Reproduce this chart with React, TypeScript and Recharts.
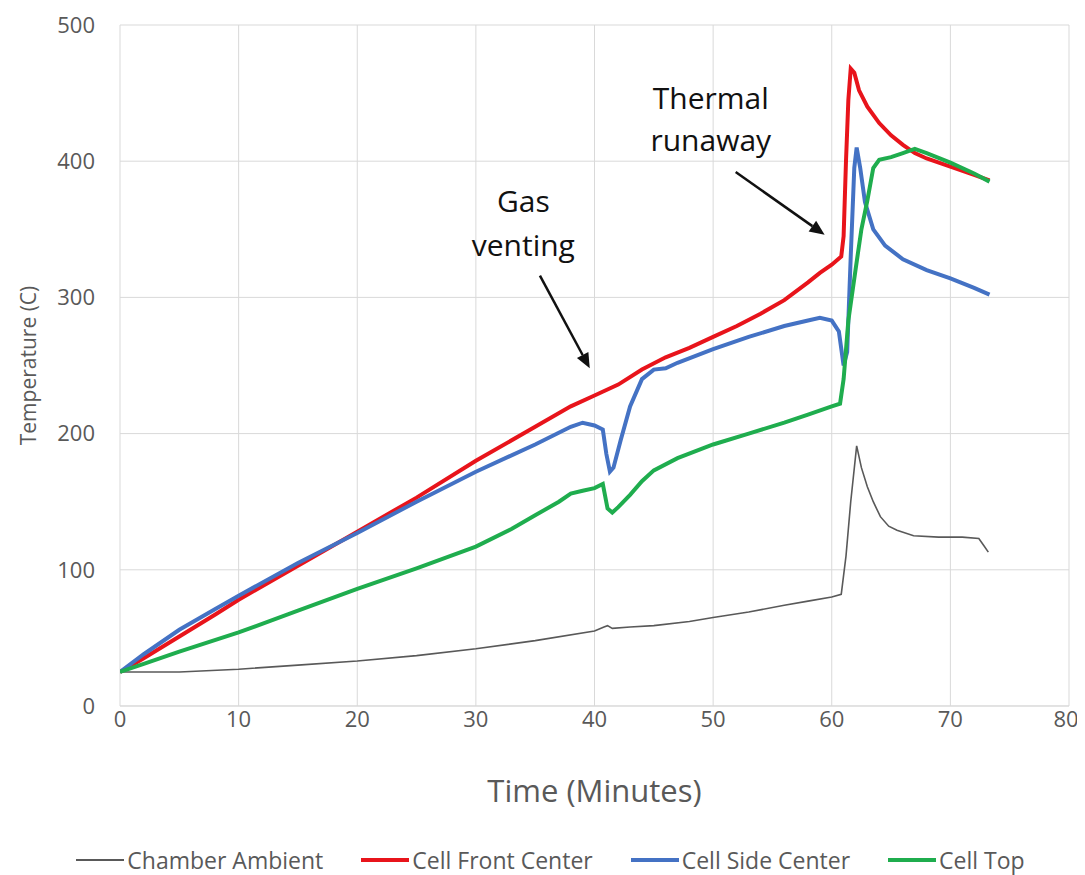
import React from 'react';
import { LineChart, Line, XAxis, YAxis, CartesianGrid, Legend, ReferenceLine, ReferenceDot } from 'recharts';

const ambientT = [0, 5, 10, 15, 20, 25, 30, 35, 40, 40.8, 41.1, 41.5, 43, 45, 48, 50, 53, 56, 58, 60, 60.8, 61.2, 61.6, 62.1, 62.5, 63, 63.5, 64.1, 64.8, 65.5, 66.9, 69, 71, 72.4, 72.8, 73.2];
const ambientV = [25, 25, 27, 30, 33, 37, 42, 48, 55, 58, 59, 57, 58, 59, 62, 65, 69, 74, 77, 80, 82, 110, 150, 191, 175, 161, 150, 139, 132, 129, 125, 124, 124, 123, 118, 113];

const frontT = [0, 2, 5, 8, 10, 15, 20, 25, 30, 35, 38, 40, 42, 44, 46, 48, 50, 52, 54, 56, 58, 59, 60, 60.8, 61.0, 61.2, 61.4, 61.6, 61.9, 62.3, 63, 64, 65, 66, 67, 68, 70, 72, 73.3];
const frontV = [25, 35, 51, 67, 78, 103, 128, 153, 180, 205, 220, 228, 236, 247, 256, 263, 271, 279, 288, 298, 311, 318, 324, 330, 345, 400, 445, 468, 465, 452, 440, 428, 419, 412, 406, 402, 396, 390, 386];

const sideT = [0, 2, 5, 8, 10, 15, 20, 25, 30, 35, 38, 39, 40, 40.7, 41.0, 41.3, 41.6, 42.2, 43, 44, 45, 46, 47, 50, 53, 56, 58, 59, 60, 60.6, 61.0, 61.3, 61.6, 61.9, 62.1, 62.4, 62.8, 63.5, 64.5, 66, 68, 70, 72, 73.3];
const sideV = [25, 38, 56, 71, 81, 105, 127, 150, 172, 192, 205, 208, 206, 203, 185, 172, 175, 195, 220, 240, 247, 248, 252, 262, 271, 279, 283, 285, 283, 275, 250, 260, 330, 395, 410, 395, 370, 350, 338, 328, 320, 314, 307, 302];

const topT = [0, 2, 5, 10, 15, 20, 25, 30, 33, 35, 37, 38, 39, 40, 40.7, 41.1, 41.5, 42, 43, 44, 45, 47, 50, 53, 56, 58, 60, 60.7, 61.0, 61.4, 62.0, 62.5, 63.0, 63.5, 64, 65, 66, 67, 68, 70, 72, 73.3];
const topV = [25, 31, 40, 54, 70, 86, 101, 117, 130, 140, 150, 156, 158, 160, 163, 145, 142, 146, 155, 165, 173, 182, 192, 200, 208, 214, 220, 222, 240, 283, 320, 350, 371, 395, 401, 403, 406, 409, 406, 399, 391, 385];

const xTicks = [0, 10, 20, 30, 40, 50, 60, 70, 80];
const yTicks = [0, 100, 200, 300, 400, 500];

const seriesNames = ['Chamber Ambient', 'Cell Front Center', 'Cell Side Center', 'Cell Top'];
const seriesColors = ['#595959', '#e8141b', '#4472c4', '#1fad4e'];
const seriesWidths = [1.6, 4, 4, 4];

const toRows = (ts: number[], vs: number[]) => ts.map((t, i) => ({ t, v: vs[i] }));
const seriesData = [toRows(ambientT, ambientV), toRows(frontT, frontV), toRows(sideT, sideV), toRows(topT, topV)];

const FONT = '"Open Sans", sans-serif';

const arrowShape = (p: any) => {
  const { x1, y1, x2, y2 } = p;
  const ang = Math.atan2(y2 - y1, x2 - x1);
  const L = 15, W = 6.5;
  const bx = x2 - L * Math.cos(ang), by = y2 - L * Math.sin(ang);
  const px = -Math.sin(ang) * W, py = Math.cos(ang) * W;
  return (
    <g>
      <line x1={x1} y1={y1} x2={bx} y2={by} stroke="#111" strokeWidth={2.5} />
      <polygon points={`${x2},${y2} ${bx + px},${by + py} ${bx - px},${by - py}`} fill="#111" />
    </g>
  );
};

const textShape = (label: string) => (p: any) => (
  <text x={p.cx} y={p.cy} textAnchor="middle" dominantBaseline="central" fontFamily={FONT} fontSize={30} fill="#111">
    {label}
  </text>
);

const LegendContent = () => (
  <div style={{ display: 'flex', justifyContent: 'center', alignItems: 'center', height: 24, fontFamily: FONT, fontSize: 23, color: '#595959', paddingLeft: 16 }}>
    {seriesNames.map((n, i) => (
      <div key={n} style={{ display: 'flex', alignItems: 'center', marginRight: i < 3 ? 38 : 0 }}>
        <div style={{ width: 48, height: seriesWidths[i] + 0.5, background: seriesColors[i], marginRight: 3 }} />
        <span>{n}</span>
      </div>
    ))}
  </div>
);

const YLabel = (props: any) => {
  const vb = props.viewBox;
  const cx = 20;
  const cy = vb.y + vb.height / 2;
  return (
    <text x={cx} y={cy} transform={`rotate(-90 ${cx} ${cy})`} textAnchor="middle" dominantBaseline="central" fontFamily={FONT} fontSize={21} fill="#595959">
      Temperature (C)
    </text>
  );
};

const XLabel = (props: any) => {
  const vb = props.viewBox;
  const cx = vb.x + vb.width / 2;
  return (
    <text x={cx} y={782} textAnchor="middle" dominantBaseline="central" fontFamily={FONT} fontSize={31} fill="#595959">
      Time (Minutes)
    </text>
  );
};

export default function App() {
  return (
    <div style={{ width: 1069 }}>
      <style>{'svg.recharts-surface { overflow: visible; }'}</style>
      <LineChart width={1069} height={867} margin={{ top: 17, right: 8, left: 0, bottom: 45 }}>
        <CartesianGrid stroke="#d9d9d9" strokeWidth={1} />
        <XAxis
          dataKey="t"
          type="number"
          domain={[0, 80]}
          ticks={xTicks}
          height={100}
          tickLine={false}
          tickSize={5}
          tickMargin={0}
          axisLine={{ stroke: '#d9d9d9' }}
          tick={{ fontFamily: FONT, fontSize: 22, fill: '#595959' }}
          label={<XLabel />}
          allowDataOverflow
        />
        <YAxis
          type="number"
          domain={[0, 500]}
          ticks={yTicks}
          width={112}
          tickLine={false}
          axisLine={false}
          tickMargin={19}
          tick={{ fontFamily: FONT, fontSize: 22, fill: '#595959' }}
          label={<YLabel />}
        />
        <Legend content={<LegendContent />} wrapperStyle={{ position: 'absolute', top: 840, left: 0, width: 1069, height: 24 }} />
        {seriesData.map((d, i) => (
          <Line
            key={seriesNames[i]}
            data={d}
            dataKey="v"
            name={seriesNames[i]}
            stroke={seriesColors[i]}
            strokeWidth={seriesWidths[i]}
            dot={false}
            type="linear"
            isAnimationActive={false}
          />
        ))}
        <ReferenceLine segment={[{ x: 35.4, y: 316 }, { x: 39.6, y: 248 }]} shape={arrowShape} ifOverflow="visible" />
        <ReferenceLine segment={[{ x: 51.9, y: 392 }, { x: 59.4, y: 346 }]} shape={arrowShape} ifOverflow="visible" />
        <ReferenceDot x={34} y={371.5} r={0} shape={textShape('Gas')} ifOverflow="visible" />
        <ReferenceDot x={34} y={338.5} r={0} shape={textShape('venting')} ifOverflow="visible" />
        <ReferenceDot x={49.8} y={447} r={0} shape={textShape('Thermal')} ifOverflow="visible" />
        <ReferenceDot x={49.8} y={415.6} r={0} shape={textShape('runaway')} ifOverflow="visible" />
      </LineChart>
    </div>
  );
}
